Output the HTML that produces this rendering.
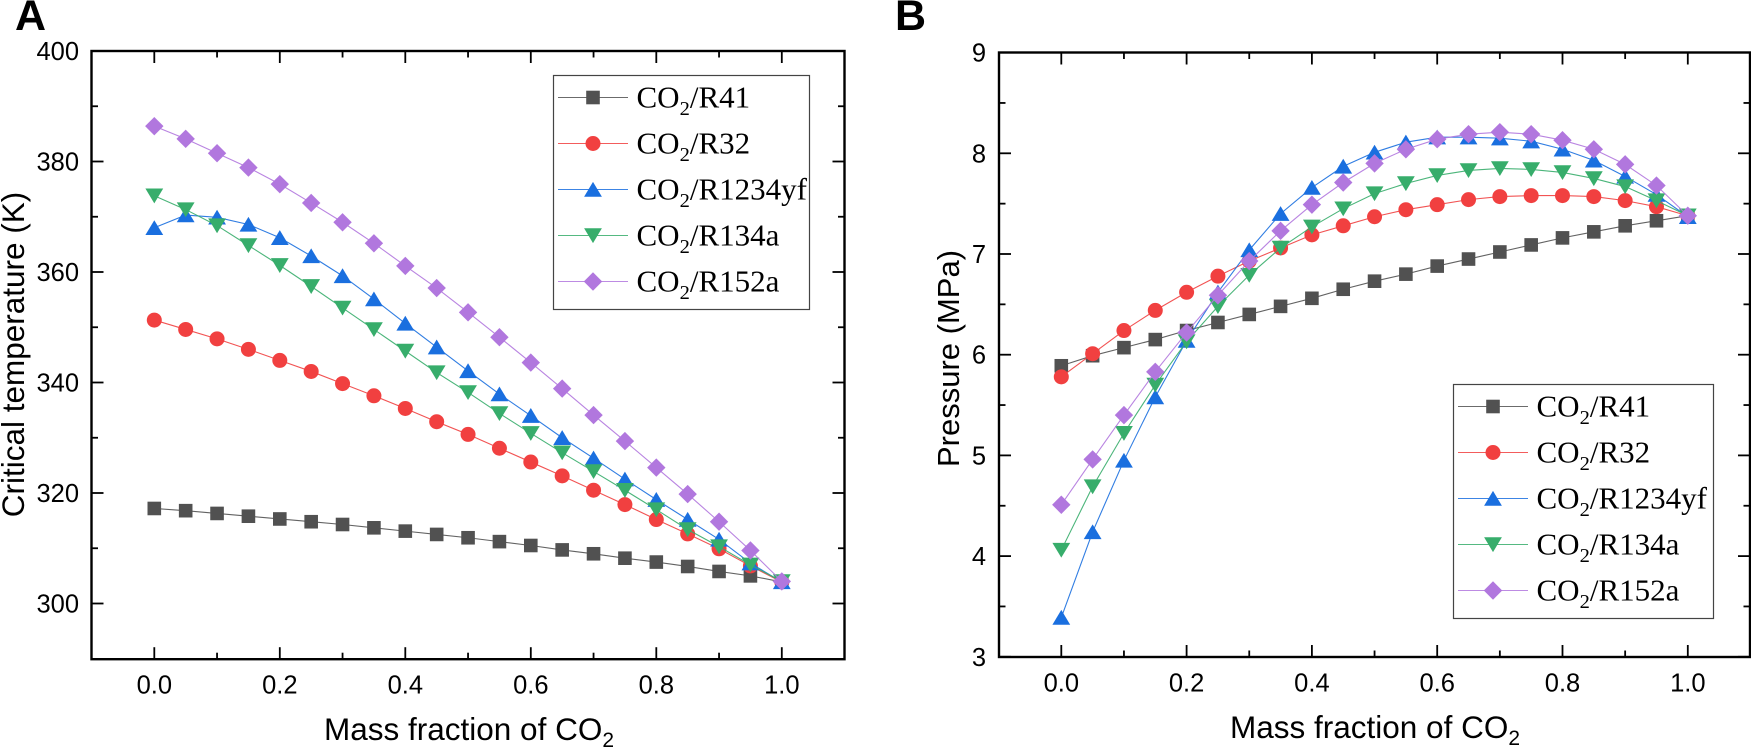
<!DOCTYPE html>
<html lang="en">
<head>
<meta charset="utf-8">
<title>Critical temperature and pressure of CO2 mixtures</title>
<style>
html,body{margin:0;padding:0;background:#fff;width:1751px;height:750px;overflow:hidden}
svg{display:block}
.sans{font-family:"Liberation Sans",Arial,sans-serif;fill:#000}
.serif{font-family:"Liberation Serif","Times New Roman",serif;fill:#000}
</style>
</head>
<body>
<svg id="figure" xmlns="http://www.w3.org/2000/svg" width="1751" height="750" viewBox="0 0 1751 750">
  <rect width="1751" height="750" fill="#fff"/>
  <text class="sans" x="15" y="30" font-size="43" font-weight="bold">A</text>
  <text class="sans" x="895" y="30" font-size="43" font-weight="bold">B</text>

  <g id="panel-a"></g>
  <g id="panel-b"></g>

  <text class="sans" font-size="31.5" text-anchor="middle" transform="translate(24 354.5) rotate(-90)">Critical temperature (K)</text>
  <text class="sans" font-size="31.5" x="324" y="740">Mass fraction of CO<tspan font-size="21" dy="7">2</tspan></text>
  <text class="sans" font-size="31" text-anchor="middle" transform="translate(959 358.5) rotate(-90)">Pressure (MPa)</text>
  <text class="sans" font-size="31.5" x="1230" y="738">Mass fraction of CO<tspan font-size="21" dy="7">2</tspan></text>
</svg>
<script>
var massFractions = [0, 0.05, 0.1, 0.15, 0.2, 0.25, 0.3, 0.35, 0.4, 0.45, 0.5, 0.55, 0.6, 0.65, 0.7, 0.75, 0.8, 0.85, 0.9, 0.95, 1];
var seriesNames = ['R41', 'R32', 'R1234yf', 'R134a', 'R152a'];

var tempR41 = [317.2, 316.8, 316.3, 315.8, 315.3, 314.8, 314.3, 313.7, 313.1, 312.5, 311.9, 311.2, 310.5, 309.7, 309.0, 308.2, 307.5, 306.7, 305.8, 305.0, 303.9];
var tempR32 = [351.3, 349.6, 347.9, 346.0, 344.0, 342.0, 339.8, 337.6, 335.3, 332.9, 330.6, 328.1, 325.6, 323.1, 320.5, 317.9, 315.2, 312.6, 309.9, 306.8, 303.9];
var tempR1234yf = [368.0, 370.3, 369.9, 368.6, 366.2, 362.9, 359.3, 355.1, 350.7, 346.4, 342.1, 337.9, 334.0, 330.0, 326.3, 322.5, 318.8, 315.2, 311.6, 307.3, 303.9];
var tempR134a = [373.8, 371.3, 368.4, 364.8, 361.2, 357.4, 353.5, 349.6, 345.7, 341.8, 338.2, 334.4, 330.8, 327.3, 323.9, 320.5, 317.0, 313.4, 310.3, 307.0, 304.0];
var tempR152a = [386.4, 384.1, 381.5, 378.9, 375.9, 372.5, 369.0, 365.2, 361.1, 357.1, 352.7, 348.2, 343.6, 338.9, 334.1, 329.4, 324.6, 319.8, 314.8, 309.6, 304.0];

var pressR41 = [5.89, 5.99, 6.07, 6.15, 6.24, 6.32, 6.40, 6.48, 6.56, 6.65, 6.73, 6.80, 6.88, 6.95, 7.02, 7.09, 7.16, 7.22, 7.28, 7.33, 7.38];
var pressR32 = [5.78, 6.01, 6.24, 6.44, 6.62, 6.78, 6.93, 7.06, 7.19, 7.28, 7.37, 7.44, 7.49, 7.54, 7.57, 7.58, 7.58, 7.57, 7.53, 7.47, 7.38];
var pressR1234yf = [3.39, 4.24, 4.95, 5.58, 6.14, 6.62, 7.04, 7.40, 7.66, 7.87, 8.01, 8.11, 8.16, 8.16, 8.15, 8.12, 8.04, 7.93, 7.77, 7.59, 7.37];
var pressR134a = [4.06, 4.69, 5.22, 5.70, 6.13, 6.48, 6.79, 7.06, 7.27, 7.45, 7.60, 7.70, 7.78, 7.83, 7.85, 7.84, 7.81, 7.75, 7.67, 7.53, 7.38];
var pressR152a = [4.51, 4.96, 5.40, 5.83, 6.22, 6.59, 6.93, 7.23, 7.49, 7.71, 7.90, 8.04, 8.14, 8.19, 8.21, 8.19, 8.13, 8.04, 7.89, 7.68, 7.38];

var xMajorTicks = [0, 0.2, 0.4, 0.6, 0.8, 1];
var xMinorTicks = [0.1, 0.3, 0.5, 0.7, 0.9];
var xTickLabels = ['0.0', '0.2', '0.4', '0.6', '0.8', '1.0'];
var tempMajorTicks = [300, 320, 340, 360, 380, 400];
var tempMinorTicks = [310, 330, 350, 370, 390];
var tempTickLabels = ['300', '320', '340', '360', '380', '400'];
var pressMajorTicks = [3, 4, 5, 6, 7, 8, 9];
var pressMinorTicks = [3.5, 4.5, 5.5, 6.5, 7.5, 8.5];
var pressTickLabels = ['3', '4', '5', '6', '7', '8', '9'];

var COLORS = ['#515151', '#f14040', '#1a6fdf', '#37ad6b', '#b177de'];
var NS = 'http://www.w3.org/2000/svg';

function make(parent, tag, attrs) {
  var el = document.createElementNS(NS, tag);
  for (var k in attrs) { el.setAttribute(k, attrs[k]); }
  parent.appendChild(el);
  return el;
}

function drawMarker(parent, kind, cx, cy, color) {
  var el;
  if (kind === 0) {
    el = make(parent, 'rect', {x: cx - 6.8, y: cy - 6.8, width: 13.6, height: 13.6, fill: color});
  } else if (kind === 1) {
    el = make(parent, 'circle', {cx: cx, cy: cy, r: 7.5, fill: color});
  } else if (kind === 2) {
    el = make(parent, 'polygon', {points: cx + ',' + (cy - 7.6) + ' ' + (cx + 8.9) + ',' + (cy + 7.2) + ' ' + (cx - 8.9) + ',' + (cy + 7.2), fill: color});
  } else if (kind === 3) {
    el = make(parent, 'polygon', {points: cx + ',' + (cy + 7.6) + ' ' + (cx + 8.9) + ',' + (cy - 7.2) + ' ' + (cx - 8.9) + ',' + (cy - 7.2), fill: color});
  } else {
    el = make(parent, 'polygon', {points: cx + ',' + (cy - 9.2) + ' ' + (cx + 9.2) + ',' + cy + ' ' + cx + ',' + (cy + 9.2) + ' ' + (cx - 9.2) + ',' + cy, fill: color});
  }
  
  
}

function drawPanel(cfg) {
  var root = document.getElementById(cfg.id);
  var sx = function (v) { return cfg.x0 + v * cfg.xUnit; };
  var sy = function (v) { return cfg.yRef - (v - cfg.yRefVal) * cfg.yUnit; };
  var el;

  // series
  cfg.series.forEach(function (values, s) {
    var g = make(root, 'g', {});
    
    
    var pts = values.map(function (v, j) { return sx(massFractions[j]).toFixed(2) + ',' + sy(v).toFixed(2); }).join(' ');
    var line = make(g, 'polyline', {points: pts, fill: 'none', stroke: COLORS[s], 'stroke-width': 1.1, 'stroke-opacity': 0.9});
    
    
    values.forEach(function (v, j) { drawMarker(g, s, sx(massFractions[j]), sy(v), COLORS[s]); });
  });

  // axes frame
  var frame = make(root, 'rect', {x: cfg.left, y: cfg.top, width: cfg.right - cfg.left, height: cfg.bottom - cfg.top, fill: 'none', stroke: '#000', 'stroke-width': 2.4});
  
  

  function tickX(v, len) {
    var x = sx(v);
    var a = make(root, 'line', {x1: x, x2: x, y1: cfg.bottom, y2: cfg.bottom - len, stroke: '#000', 'stroke-width': 1.8});
    
    
    var b = make(root, 'line', {x1: x, x2: x, y1: cfg.top, y2: cfg.top + len, stroke: '#000', 'stroke-width': 1.8});
    
    
  }
  function tickY(v, len) {
    var y = sy(v);
    var a = make(root, 'line', {x1: cfg.left, x2: cfg.left + len, y1: y, y2: y, stroke: '#000', 'stroke-width': 1.8});
    
    
    var b = make(root, 'line', {x1: cfg.right, x2: cfg.right - len, y1: y, y2: y, stroke: '#000', 'stroke-width': 1.8});
    
    
  }
  xMajorTicks.forEach(function (v) { tickX(v, 12); });
  xMinorTicks.forEach(function (v) { tickX(v, 6.5); });
  cfg.yMajor.forEach(function (v) { tickY(v, 12); });
  cfg.yMinor.forEach(function (v) { tickY(v, 6.5); });

  // tick labels
  xMajorTicks.forEach(function (v, j) {
    el = make(root, 'text', {x: sx(v), y: cfg.bottom + 34.5, 'text-anchor': 'middle', 'font-size': 25.5, 'class': 'sans'});
    el.textContent = xTickLabels[j];
    
    
  });
  cfg.yMajor.forEach(function (v, j) {
    el = make(root, 'text', {x: cfg.labelRight, y: sy(v) + 9, 'text-anchor': 'end', 'font-size': 25.5, 'class': 'sans'});
    el.textContent = cfg.yLabels[j];
    
    
  });

  // legend
  var lg = make(root, 'g', {});
  
  
  var box = make(lg, 'rect', {x: cfg.legX, y: cfg.legY, width: cfg.legW, height: 234, fill: '#fff', stroke: '#444', 'stroke-width': 1.2});
  
  
  seriesNames.forEach(function (name, s) {
    var rowY = cfg.legY + 22 + s * 46;
    var entry = make(lg, 'g', {});
    
    
    make(entry, 'line', {x1: cfg.legX + 4.5, x2: cfg.legX + 74.5, y1: rowY, y2: rowY, stroke: COLORS[s], 'stroke-width': 1.1, 'stroke-opacity': 0.85});
    drawMarker(entry, s, cfg.legX + 39.5, rowY, COLORS[s]);
    var tx = make(entry, 'text', {x: cfg.legX + 83, y: rowY + 10, 'font-size': 31, 'class': 'serif'});
    tx.appendChild(document.createTextNode('CO'));
    var sub = make(tx, 'tspan', {'font-size': 20.5, dy: 7.5});
    sub.textContent = '2';
    var rest = make(tx, 'tspan', {dy: -7.5});
    rest.textContent = '/' + name;
  });
}

drawPanel({
  id: 'panel-a', x0: 154.3, xUnit: 627.5, yRef: 603.5, yRefVal: 300, yUnit: 5.525,
  left: 91.5, right: 844.5, top: 51, bottom: 659.2, labelRight: 79,
  yMajor: tempMajorTicks, yMinor: tempMinorTicks, yLabels: tempTickLabels,
  legX: 553.5, legY: 75.5, legW: 256,
  series: [tempR41, tempR32, tempR1234yf, tempR134a, tempR152a]
});
drawPanel({
  id: 'panel-b', x0: 1061.3, xUnit: 626.5, yRef: 354.7, yRefVal: 6, yUnit: 100.7,
  left: 999, right: 1750, top: 52.5, bottom: 657, labelRight: 986,
  yMajor: pressMajorTicks, yMinor: pressMinorTicks, yLabels: pressTickLabels,
  legX: 1453.5, legY: 384.5, legW: 260,
  series: [pressR41, pressR32, pressR1234yf, pressR134a, pressR152a]
});
</script>
</body>
</html>
